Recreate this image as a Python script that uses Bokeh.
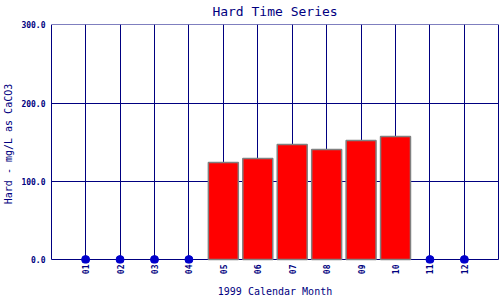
from bokeh.plotting import figure
from bokeh.models import Range1d, FixedTicker, ColumnDataSource
from bokeh.embed import file_html
from bokeh.resources import INLINE
import math

months = ["01", "02", "03", "04", "05", "06", "07", "08", "09", "10", "11", "12"]
hardness = [None, None, None, None, 124.2, 129.3, 147.1, 140.7, 152.2, 157.2, None, None]
y_ticks = [0, 100, 200, 300]

NAVY = "#000080"
FONT = "DejaVu Sans Mono"

xs = list(range(1, len(months) + 1))
bar_x = [x for x, v in zip(xs, hardness) if v is not None]
bar_v = [v for v in hardness if v is not None]
dot_x = [x for x, v in zip(xs, hardness) if v is None]
dot_y = [0 for _ in dot_x]

p = figure(width=500, height=300, output_backend="svg", toolbar_location=None,
           x_range=Range1d(-0.02, 13.02), y_range=Range1d(-5, 300.4),
           min_border_left=50, min_border_right=1, min_border_top=0, min_border_bottom=36)

p.title.text = "Hard Time Series"
p.title.align = "center"
p.title.text_color = NAVY
p.title.text_font = FONT
p.title.text_font_size = "13px"
p.title.text_font_style = "normal"
p.title.standoff = 7
p.title.vertical_align = "top"

p.outline_line_color = None
p.background_fill_color = "white"
p.border_fill_color = "white"

p.xaxis.ticker = FixedTicker(ticks=xs)
p.xaxis.major_label_overrides = {x: m for x, m in zip(xs, months)}
p.xaxis.major_label_orientation = math.pi / 2
p.yaxis.ticker = FixedTicker(ticks=y_ticks)
p.yaxis.major_label_overrides = {t: f"{t:.1f}" for t in y_ticks}

for ax in (p.xaxis, p.yaxis):
    ax.axis_line_color = None
    ax.major_tick_line_color = None
    ax.minor_tick_line_color = None
    ax.major_tick_out = 0
    ax.major_tick_in = 0
    ax.minor_tick_out = 0
    ax.major_label_text_color = NAVY
    ax.major_label_text_font = FONT
    ax.major_label_text_font_size = "8px"
    ax.major_label_text_font_style = "bold"
    ax.axis_label_text_color = NAVY
    ax.axis_label_text_font = FONT
    ax.axis_label_text_font_size = "10px"
    ax.axis_label_text_font_style = "normal"

p.xaxis.axis_label = "1999 Calendar Month"
p.yaxis.axis_label = "Hard - mg/L as CaCO3"
p.xaxis.major_label_standoff = 1
p.yaxis.major_label_standoff = 5
p.xaxis.axis_label_standoff = 9
p.yaxis.axis_label_standoff = 4

p.xgrid.ticker = FixedTicker(ticks=[0] + xs + [13])
p.ygrid.ticker = FixedTicker(ticks=y_ticks)
for g in (p.xgrid, p.ygrid):
    g.grid_line_color = NAVY
    g.grid_line_width = 1
try:
    p.xgrid.cross_bounds = (0, 300)
    p.ygrid.cross_bounds = (0, 13)
except Exception:
    pass

src = ColumnDataSource(dict(x=bar_x, top=bar_v))
p.vbar(x="x", top="top", bottom=0, width=0.87, source=src,
       fill_color="#FF0000", line_color="#808080", line_width=1.5)
p.scatter(dot_x, dot_y, size=8, fill_color="#0000CC", line_color="#0000CC")

open("out.html", "w").write(file_html(p, INLINE))
